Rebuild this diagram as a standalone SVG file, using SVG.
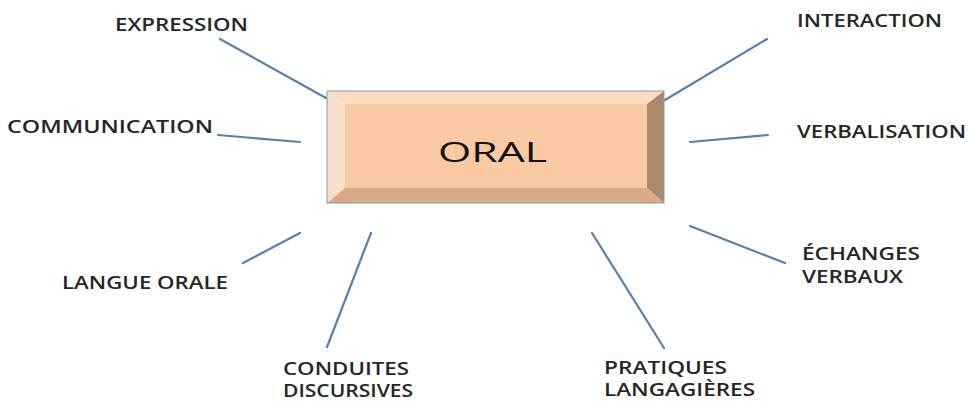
<svg xmlns="http://www.w3.org/2000/svg" width="968" height="401" viewBox="0 0 968 401">
<style>
.lbl{font-family:"Open Sans","Liberation Sans",sans-serif;font-size:18px;font-weight:600;fill:#262626}
.ln{stroke:#5a7fa8;stroke-width:2.2;fill:none;stroke-linecap:round}
.edge{stroke:#8a97aa;stroke-width:1}
</style>
<rect width="968" height="401" fill="#ffffff"/>
<g id="connectors">
<line class="ln" x1="220" y1="39" x2="326" y2="98"/>
<line class="ln" x1="218" y1="135" x2="300" y2="142"/>
<line class="ln" x1="243" y1="263" x2="300" y2="233"/>
<line class="ln" x1="327" y1="347" x2="371" y2="233"/>
<line class="ln" x1="665" y1="100" x2="767" y2="39"/>
<line class="ln" x1="690" y1="142" x2="768" y2="135"/>
<line class="ln" x1="690" y1="226" x2="785" y2="263"/>
<line class="ln" x1="592" y1="233" x2="664" y2="348"/>
</g>
<g id="oral">
<polygon points="327,91 664,91 647,104 345,104" fill="#fbdcc2"/>
<polygon points="327,91 345,104 345,188 327,203" fill="#f8dfcb"/>
<polygon points="664,91 664,203 647,188 647,104" fill="#ad896c"/>
<polygon points="327,203 664,203 647,188 345,188" fill="#d8aa86"/>
<rect x="345" y="104" width="302" height="84" fill="#f9c9a2"/>
<rect x="327" y="91" width="337" height="112" fill="none" class="edge"/>
<text x="438" y="162" font-family="'Open Sans','Liberation Sans',sans-serif" font-size="28" font-weight="500" fill="#111" textLength="109" lengthAdjust="spacingAndGlyphs">ORAL</text>
</g>
<g id="expression"><text class="lbl" x="115" y="31" textLength="133" lengthAdjust="spacingAndGlyphs">EXPRESSION</text></g>
<g id="communication"><text class="lbl" x="7" y="133" textLength="206" lengthAdjust="spacingAndGlyphs">COMMUNICATION</text></g>
<g id="langue-orale"><text class="lbl" x="62" y="289" textLength="166" lengthAdjust="spacingAndGlyphs">LANGUE ORALE</text></g>
<g id="conduites"><text class="lbl" x="283" y="375" textLength="126" lengthAdjust="spacingAndGlyphs">CONDUITES</text><text class="lbl" x="283" y="397" textLength="130" lengthAdjust="spacingAndGlyphs">DISCURSIVES</text></g>
<g id="interaction"><text class="lbl" x="797" y="27" textLength="145" lengthAdjust="spacingAndGlyphs">INTERACTION</text></g>
<g id="verbalisation"><text class="lbl" x="797" y="138" textLength="169" lengthAdjust="spacingAndGlyphs">VERBALISATION</text></g>
<g id="echanges"><text class="lbl" x="802" y="260" textLength="118" lengthAdjust="spacingAndGlyphs">ÉCHANGES</text><text class="lbl" x="802" y="283" textLength="101" lengthAdjust="spacingAndGlyphs">VERBAUX</text></g>
<g id="pratiques"><text class="lbl" x="604" y="374" textLength="123" lengthAdjust="spacingAndGlyphs">PRATIQUES</text><text class="lbl" x="604" y="396" textLength="151" lengthAdjust="spacingAndGlyphs">LANGAGIÈRES</text></g>
</svg>
